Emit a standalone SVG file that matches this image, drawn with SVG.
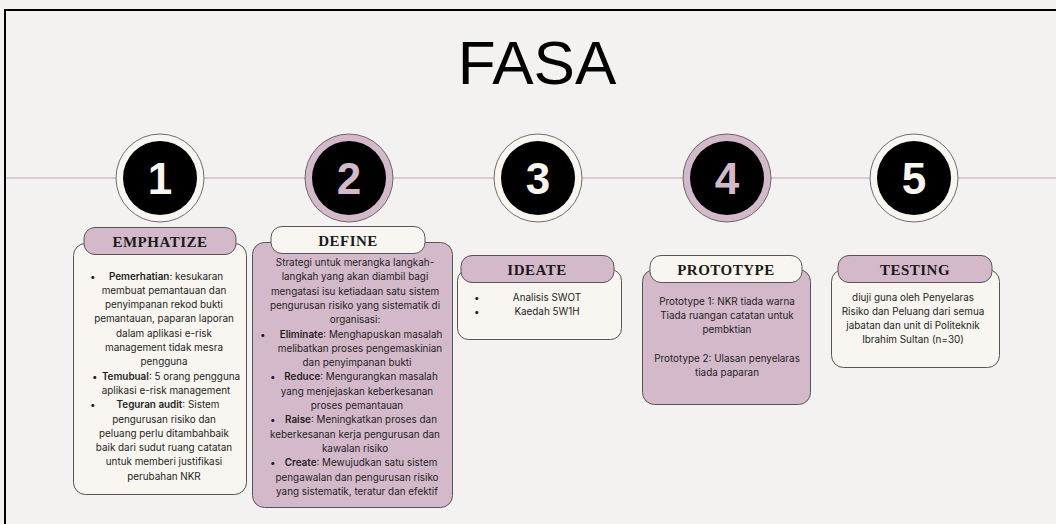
<svg xmlns="http://www.w3.org/2000/svg" width="1056" height="524" viewBox="0 0 1056 524">
  <style>
    .title { font-family: "Liberation Sans", Arial, sans-serif; font-size: 62px; fill: #000; }
    .num { font-family: "Liberation Sans", Arial, sans-serif; font-weight: bold; font-size: 44px; text-anchor: middle; }
    .ring { stroke: #4a4a4a; stroke-width: 0.8; }
    .hdr { stroke: #555; stroke-width: 1; }
    .body { stroke: #555; stroke-width: 1; }
    .mauve { fill: #d4b9ca; }
    .cream { fill: #f9f5f0; }
    .htxt { font-family: "Liberation Serif", "Times New Roman", serif; font-weight: bold; font-size: 15px; letter-spacing: 0.5px; fill: #1a1a1a; text-anchor: middle; }
    .t { font-family: Inter, "Open Sans", sans-serif; font-size: 9.9px; fill: #1e1e1e; text-anchor: middle; }
    .b { font-weight: 600; }
    .bul { font-family: Inter, "Open Sans", sans-serif; font-size: 9.9px; fill: #1e1e1e; }
  </style>

  <!-- paper background and frame -->
  <rect x="0" y="0" width="1056" height="524" fill="#f3f2f0"/>
  <rect x="5" y="10" width="1060" height="530" fill="none" stroke="#000" stroke-width="2"/>

  <text class="title" x="537" y="84" text-anchor="middle">FASA</text>

  <!-- timeline -->
  <g id="connectors">
    <line x1="6" y1="178" x2="1056" y2="178" stroke="#c4a2b6" stroke-width="1.2"/>
  </g>

  <!-- phase 1 -->
  <g id="phase1">
    <circle class="ring cream" cx="160" cy="178" r="44"/>
    <circle cx="160" cy="178" r="37" fill="#000"/>
    <text class="num" x="160" y="194" fill="#f9f5f0">1</text>
    <rect class="body cream" x="73.5" y="243.5" width="173" height="251" rx="12"/>
    <rect class="hdr mauve" x="84" y="227.5" width="152" height="27" rx="11"/>
    <text class="htxt" x="160" y="246.5">EMPHATIZE</text>
    <text class="bul" x="90" y="279.5">•</text>
    <text class="t" x="166" y="279.5"><tspan class="b">Pemerhatian</tspan>: kesukaran</text>
    <text class="t" x="164" y="293.8">membuat pemantauan dan</text>
    <text class="t" x="164" y="308.1">penyimpanan rekod bukti</text>
    <text class="t" x="164" y="322.4">pemantauan, paparan laporan</text>
    <text class="t" x="164" y="336.7">dalam aplikasi e-risk</text>
    <text class="t" x="164" y="351">management tidak mesra</text>
    <text class="t" x="164" y="365.3">pengguna</text>
    <text class="bul" x="92" y="379.6">•</text>
    <text class="t" x="171" y="379.6"><tspan class="b">Temubual</tspan>: 5 orang pengguna</text>
    <text class="t" x="166" y="393.9">aplikasi e-risk management</text>
    <text class="bul" x="90" y="408.2">•</text>
    <text class="t" x="168" y="408.2"><tspan class="b">Teguran audit</tspan>:  Sistem</text>
    <text class="t" x="164" y="422.5">pengurusan risiko dan</text>
    <text class="t" x="164" y="436.8">peluang perlu ditambahbaik</text>
    <text class="t" x="164" y="451.1">baik dari sudut ruang catatan</text>
    <text class="t" x="164" y="465.4">untuk memberi justifikasi</text>
    <text class="t" x="164" y="479.7">perubahan NKR</text>
  </g>

  <!-- phase 2 -->
  <g id="phase2">
    <circle class="ring mauve" cx="349" cy="178" r="44"/>
    <circle cx="349" cy="178" r="37" fill="#000"/>
    <text class="num" x="349" y="194" fill="#d4b9ca">2</text>
    <rect class="body mauve" x="252.5" y="242.5" width="200" height="265" rx="12"/>
    <rect class="hdr cream" x="271" y="226.5" width="154" height="27" rx="11"/>
    <text class="htxt" x="348" y="245.5">DEFINE</text>
    <text class="t" x="355" y="266">Strategi untuk merangka langkah-</text>
    <text class="t" x="355" y="280.3">langkah yang akan diambil bagi</text>
    <text class="t" x="355" y="294.6">mengatasi isu ketiadaan satu sistem</text>
    <text class="t" x="355" y="308.9">pengurusan risiko yang sistematik di</text>
    <text class="t" x="355" y="323.2">organisasi:</text>
    <text class="bul" x="260" y="337.5">•</text>
    <text class="t" x="361" y="337.5"><tspan class="b">Eliminate</tspan>: Menghapuskan masalah</text>
    <text class="t" x="360" y="351.8">melibatkan proses pengemaskinian</text>
    <text class="t" x="357" y="366.1">dan penyimpanan bukti</text>
    <text class="bul" x="270" y="380.4">•</text>
    <text class="t" x="361" y="380.4"><tspan class="b">Reduce</tspan>: Mengurangkan masalah</text>
    <text class="t" x="357" y="394.7">yang menjejaskan keberkesanan</text>
    <text class="t" x="357" y="409">proses pemantauan</text>
    <text class="bul" x="270" y="423.3">•</text>
    <text class="t" x="361" y="423.3"><tspan class="b">Raise</tspan>: Meningkatkan proses dan</text>
    <text class="t" x="355" y="437.6">keberkesanan kerja pengurusan dan</text>
    <text class="t" x="355" y="451.9">kawalan risiko</text>
    <text class="bul" x="270" y="466.2">•</text>
    <text class="t" x="361" y="466.2"><tspan class="b">Create</tspan>: Mewujudkan satu sistem</text>
    <text class="t" x="357" y="480.5">pengawalan dan pengurusan risiko</text>
    <text class="t" x="357" y="494.8">yang sistematik, teratur dan efektif</text>
  </g>

  <!-- phase 3 -->
  <g id="phase3">
    <circle class="ring cream" cx="538" cy="178" r="44"/>
    <circle cx="538" cy="178" r="37" fill="#000"/>
    <text class="num" x="538" y="194" fill="#f9f5f0">3</text>
    <rect class="body cream" x="457.5" y="269.5" width="164" height="70" rx="11"/>
    <rect class="hdr mauve" x="461" y="255.5" width="153" height="27" rx="11"/>
    <text class="htxt" x="537" y="274.5">IDEATE</text>
    <text class="bul" x="474" y="301">•</text>
    <text class="t" x="547" y="301">Analisis SWOT</text>
    <text class="bul" x="474" y="315">•</text>
    <text class="t" x="547" y="315">Kaedah 5W1H</text>
  </g>

  <!-- phase 4 -->
  <g id="phase4">
    <circle class="ring mauve" cx="727" cy="178" r="44"/>
    <circle cx="727" cy="178" r="37" fill="#000"/>
    <text class="num" x="727" y="194" fill="#d4b9ca">4</text>
    <rect class="body mauve" x="642.5" y="269.5" width="168" height="135" rx="12"/>
    <rect class="hdr cream" x="650" y="255.5" width="152" height="27" rx="11"/>
    <text class="htxt" x="726" y="274.5">PROTOTYPE</text>
    <text class="t" x="727" y="304.5">Prototype 1: NKR tiada warna</text>
    <text class="t" x="727" y="318.8">Tiada ruangan catatan untuk</text>
    <text class="t" x="727" y="333.1">pembktian</text>
    <text class="t" x="727" y="361.7">Prototype 2: Ulasan penyelaras</text>
    <text class="t" x="727" y="376">tiada paparan</text>
  </g>

  <!-- phase 5 -->
  <g id="phase5">
    <circle class="ring cream" cx="914" cy="178" r="44"/>
    <circle cx="914" cy="178" r="37" fill="#000"/>
    <text class="num" x="914" y="194" fill="#f9f5f0">5</text>
    <rect class="body cream" x="831.5" y="269.5" width="168" height="98" rx="12"/>
    <rect class="hdr mauve" x="838" y="255.5" width="154" height="27" rx="11"/>
    <text class="htxt" x="915" y="274.5">TESTING</text>
    <text class="t" x="913" y="300.5">diuji guna oleh Penyelaras</text>
    <text class="t" x="913" y="314.8">Risiko dan Peluang dari semua</text>
    <text class="t" x="913" y="329.1">jabatan dan unit di Politeknik</text>
    <text class="t" x="913" y="343.4">Ibrahim Sultan (n=30)</text>
  </g>
</svg>
